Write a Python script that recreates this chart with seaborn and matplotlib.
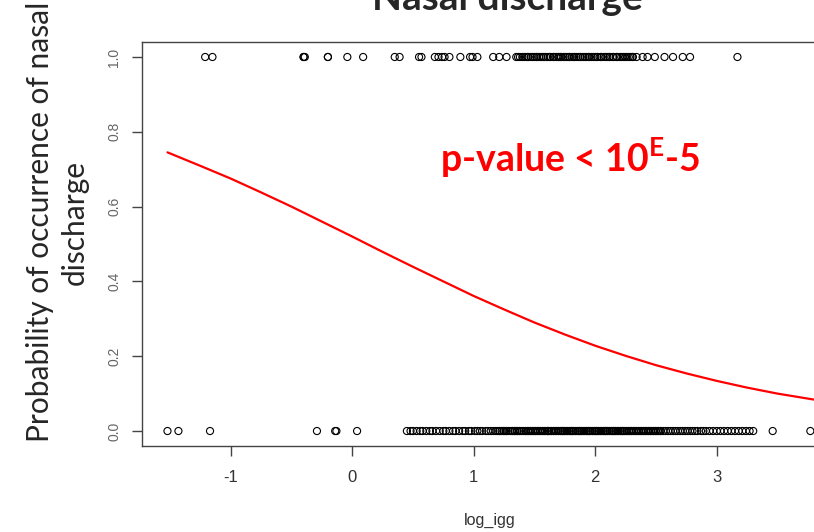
import matplotlib
matplotlib.use("Agg")
import matplotlib.pyplot as plt
import seaborn as sns
import pandas as pd

# ---- data ----
top_x = [-1.21, -1.15, -0.40, -0.40, -0.39, -0.20, -0.20, -0.04, 0.09, 0.35, 0.39,
         0.55, 0.57, 0.68, 0.71, 0.74, 0.76, 0.80, 0.89, 0.97, 0.99, 1.03, 1.16,
         1.21, 1.27, 1.35, 1.38, 1.40, 1.43, 1.45, 1.47, 1.50, 1.52, 1.54, 1.57,
         1.58, 1.61, 1.63, 1.66, 1.68, 1.70, 1.72, 1.74, 1.77, 1.79, 1.81, 1.83,
         1.86, 1.88, 1.90, 1.93, 1.95, 1.97, 2.00, 2.02, 2.05, 2.07, 2.10, 2.12,
         2.15, 2.18, 2.20, 2.23, 2.26, 2.29, 2.31, 2.34, 2.39, 2.43, 2.49, 2.57,
         2.64, 2.72, 2.78, 3.17]
top_x_dense = [1.365, 1.415, 1.445, 1.485, 1.515, 1.555, 1.595, 1.625, 1.655, 1.695,
               1.715, 1.755, 1.785, 1.825, 1.845, 1.875, 1.915, 1.945, 1.985, 2.015,
               2.045, 2.085, 2.115, 2.145, 2.175, 2.215, 2.245, 2.275, 2.305]
bottom_x = [-1.52, -1.43, -1.17, -0.29, -0.14, -0.13, 0.04,
            0.45, 0.48, 0.50, 0.53, 0.56, 0.58, 0.61, 0.64, 0.66, 0.69, 0.72, 0.75,
            0.77, 0.80, 0.83, 0.85, 0.88, 0.91, 0.93, 0.96, 0.98, 1.01, 1.03, 1.05,
            1.07, 1.10, 1.12, 1.14, 1.16, 1.18, 1.21, 1.23, 1.25, 1.27, 1.30, 1.32,
            1.34, 1.36, 1.38, 1.41, 1.43, 1.45, 1.47, 1.49, 1.51, 1.53, 1.55, 1.57,
            1.59, 1.61, 1.62, 1.64, 1.66, 1.68, 1.70, 1.72, 1.73, 1.75, 1.77, 1.79,
            1.80, 1.82, 1.84, 1.86, 1.87, 1.89, 1.91, 1.93, 1.94, 1.96, 1.98, 2.00,
            2.01, 2.03, 2.05, 2.07, 2.08, 2.10, 2.12, 2.14, 2.15, 2.17, 2.19, 2.21,
            2.22, 2.24, 2.26, 2.28, 2.30, 2.32, 2.34, 2.36, 2.38, 2.40, 2.42, 2.44,
            2.46, 2.48, 2.50, 2.52, 2.54, 2.56, 2.58, 2.60, 2.62, 2.64, 2.66, 2.68,
            2.70, 2.72, 2.74, 2.76, 2.78, 2.80, 2.82, 2.84, 2.87, 2.89, 2.91, 2.94,
            2.97, 3.00, 3.03, 3.06, 3.09, 3.12, 3.15, 3.18, 3.21, 3.24, 3.27, 3.30,
            3.46, 3.77]
bottom_x_dense = [1.195, 1.215, 1.245, 1.265, 1.285, 1.315, 1.335, 1.355, 1.375,
                  1.395, 1.425, 1.445, 1.465, 1.485, 1.505, 1.525, 1.545, 1.565,
                  1.585, 1.605, 1.615, 1.635, 1.655, 1.675, 1.695, 1.715, 1.735,
                  1.745, 1.765, 1.785, 1.805, 1.815, 1.835, 1.855, 1.875, 1.885,
                  1.905, 1.925, 1.945, 1.955, 1.975, 1.995, 2.015, 2.025, 2.045,
                  2.065, 2.085, 2.095, 2.115, 2.135, 2.155, 2.165, 2.185, 2.205,
                  2.225, 2.235, 2.255, 2.275, 2.295, 2.315, 2.335, 2.355, 2.375,
                  2.395, 2.415, 2.435, 2.455, 2.475, 2.495, 2.515, 2.535]
curve_x = [-1.52, -1.25, -1.0, -0.75, -0.5, -0.25, 0.0, 0.25, 0.5, 0.75, 1.0, 1.25,
           1.5, 1.75, 2.0, 2.25, 2.5, 2.75, 3.0, 3.25, 3.5, 3.8]
curve_y = [0.745, 0.709, 0.675, 0.638, 0.600, 0.560, 0.520, 0.479, 0.439, 0.400,
           0.361, 0.325, 0.290, 0.258, 0.228, 0.201, 0.176, 0.154, 0.134, 0.116,
           0.100, 0.084]
y_ticks = [0.0, 0.2, 0.4, 0.6, 0.8, 1.0]
y_tick_labels = ["0.0", "0.2", "0.4", "0.6", "0.8", "1.0"]
x_ticks = [-1, 0, 1, 2, 3]
x_tick_labels = ["-1", "0", "1", "2", "3"]

xs_top = top_x + top_x_dense
xs_bot = bottom_x + bottom_x_dense
pts = pd.DataFrame({"log_igg": xs_top + xs_bot,
                    "occ": [1.0] * len(xs_top) + [0.0] * len(xs_bot)})
curve = pd.DataFrame({"log_igg": curve_x, "prob": curve_y})

sns.set_theme(style="ticks")
plt.rcParams["font.family"] = ["Liberation Sans", "DejaVu Sans"]
plt.rcParams["mathtext.fontset"] = "custom"
plt.rcParams["mathtext.rm"] = "Lato:bold"
plt.rcParams["mathtext.bf"] = "Lato:bold"

fig = plt.figure(figsize=(8.14, 5.32), dpi=100)
ax = fig.add_axes([0.1744, 0.1617, 0.8256, 0.7593])

sns.scatterplot(data=pts, x="log_igg", y="occ", ax=ax, marker="o",
                facecolor="none", edgecolor="black", linewidth=0.8, s=26,
                legend=False)
sns.lineplot(data=curve, x="log_igg", y="prob", ax=ax, color="#ff0000",
             linewidth=1.6, legend=False)

ax.set_xlim(-1.73, 3.80)
ax.set_ylim(-0.04, 1.04)
ax.set_xticks(x_ticks)
ax.set_xticklabels(x_tick_labels, fontsize=12, color="#333333")
ax.set_yticks(y_ticks)
ax.set_yticklabels(y_tick_labels, fontsize=10, color="#666666",
                   rotation=90, va="center")
ax.tick_params(axis="both", length=7, width=1, color="#444444")
ax.tick_params(axis="x", pad=10)
ax.tick_params(axis="y", pad=8)
ax.spines["right"].set_visible(False)
for s in ["left", "top", "bottom"]:
    ax.spines[s].set_color("#444444")
    ax.spines[s].set_linewidth(1)
ax.set_xlabel("")
ax.set_ylabel("")

fig.text(490 / 814, 1 - 520 / 532, "log_igg", ha="center", va="center",
         fontsize=11.5, color="#333333")
fig.text(507 / 814, 1 - 10 / 532, "Nasal discharge", ha="center",
         va="baseline", fontsize=28, fontweight="bold", family="Lato")
fig.text(57 / 814, 1 - 222 / 532,
         "Probability of occurrence of nasal\ndischarge", rotation=90,
         ha="center", va="center", multialignment="center", fontsize=21.5,
         family="Lato", linespacing=1.3)
fig.text(440 / 814, 1 - 172 / 532, r"p-value < 10$^{\rm E}$-5", ha="left",
         va="baseline", fontsize=27, fontweight="bold", color="#ff0000",
         family="Lato")

fig.savefig("out.png", dpi=100)
